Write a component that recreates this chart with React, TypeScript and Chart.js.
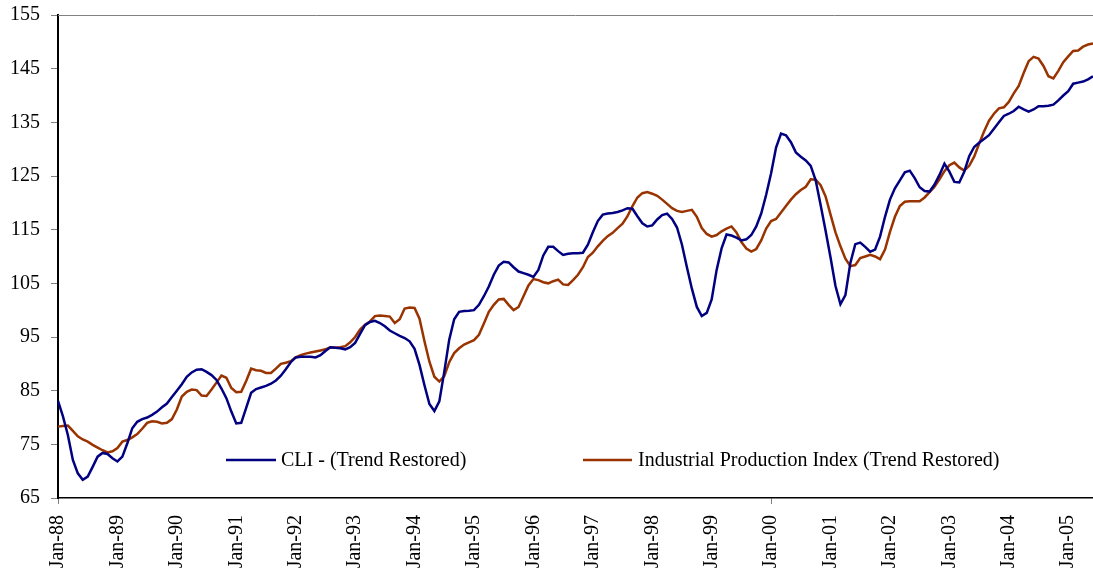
import React, { useEffect, useRef } from "react";
import { Chart, registerables } from "chart.js";

Chart.register(...registerables);

const MONTHS = ["Jan", "Feb", "Mar", "Apr", "May", "Jun", "Jul", "Aug", "Sep", "Oct", "Nov", "Dec"];
const START_YEAR = 1988;
const N_POINTS = 210; // Jan-88 .. Jun-05

const categories: string[] = [];
for (let i = 0; i < N_POINTS; i++) {
  const y = (START_YEAR + Math.floor(i / 12)) % 100;
  categories.push(`${MONTHS[i % 12]}-${String(y).padStart(2, "0")}`);
}

const yTicks = [65, 75, 85, 95, 105, 115, 125, 135, 145, 155];

const cli: number[] = [
  // 1988
  83.1, 80.2, 76.7, 72.1, 69.6, 68.4, 69.0, 70.8, 72.7, 73.4, 73.2, 72.4,
  // 1989
  71.8, 72.7, 75.2, 78.0, 79.2, 79.7, 80.0, 80.5, 81.1, 81.9, 82.6, 83.8,
  // 1990
  85.0, 86.2, 87.6, 88.4, 88.9, 89.0, 88.5, 87.9, 87.0, 85.4, 83.6, 81.1,
  // 1991
  78.9, 79.0, 81.8, 84.6, 85.3, 85.6, 85.9, 86.3, 86.9, 87.8, 89.0, 90.3,
  // 1992
  91.2, 91.3, 91.3, 91.3, 91.2, 91.6, 92.4, 93.1, 93.0, 92.9, 92.7, 93.1,
  // 1993
  93.9, 95.6, 97.2, 97.8, 98.0, 97.6, 97.0, 96.2, 95.7, 95.2, 94.8, 94.2,
  // 1994
  92.8, 89.8, 86.0, 82.5, 81.2, 83.0, 88.5, 94.5, 98.3, 99.7, 99.85, 99.9,
  // 1995
  100.0, 101.0, 102.6, 104.4, 106.6, 108.3, 109.0, 108.9, 108.0, 107.2, 106.9, 106.6,
  // 1996
  106.2, 107.5, 110.2, 111.8, 111.8, 111.0, 110.3, 110.5, 110.6, 110.6, 110.7, 112.2,
  // 1997
  114.5, 116.6, 117.8, 118.0, 118.1, 118.3, 118.6, 119.0, 118.9, 117.5, 116.2, 115.6,
  // 1998
  115.8, 116.9, 117.7, 118.0, 117.0, 115.4, 112.2, 108.0, 104.0, 100.6, 98.9, 99.5,
  // 1999
  102.0, 107.5, 111.5, 114.1, 113.9, 113.5, 113.0, 113.2, 114.0, 115.6, 118.0, 121.5,
  // 2000
  125.5, 130.3, 132.9, 132.6, 131.3, 129.4, 128.6, 127.9, 126.9, 124.2, 119.6, 114.8,
  // 2001
  109.8, 104.5, 101.1, 102.8, 108.8, 112.3, 112.6, 111.8, 110.9, 111.3, 113.7, 117.4,
  // 2002
  120.6, 122.7, 124.2, 125.7, 126.0, 124.6, 122.9, 122.2, 122.1, 123.4, 125.2, 127.3,
  // 2003
  125.8, 123.9, 123.8, 125.8, 128.7, 130.4, 131.2, 131.9, 132.6, 133.8, 135.0, 136.2,
  // 2004
  136.6, 137.1, 137.9, 137.4, 137.0, 137.4, 138.0, 138.0, 138.1, 138.3, 139.1, 140.0,
  // 2005
  140.8, 142.2, 142.4, 142.6, 143.0, 143.6,
];

const ipi: number[] = [
  // 1988
  78.3, 78.4, 78.5, 77.5, 76.5, 75.9, 75.5, 74.9, 74.4, 73.9, 73.5, 73.7,
  // 1989
  74.3, 75.5, 75.8, 76.3, 76.9, 77.9, 79.0, 79.3, 79.2, 78.9, 79.0, 79.7,
  // 1990
  81.5, 83.9, 84.8, 85.2, 85.1, 84.1, 84.0, 85.2, 86.5, 87.8, 87.4, 85.5,
  // 1991
  84.7, 84.8, 86.8, 89.1, 88.8, 88.7, 88.3, 88.3, 89.1, 90.0, 90.2, 90.5,
  // 1992
  91.2, 91.6, 91.9, 92.1, 92.3, 92.5, 92.7, 93.1, 93.0, 93.1, 93.3, 94.0,
  // 1993
  95.0, 96.4, 97.3, 97.9, 98.9, 99.0, 98.9, 98.8, 97.6, 98.3, 100.3, 100.5,
  // 1994
  100.4, 98.4, 94.2, 90.4, 87.6, 86.7, 87.7, 90.3, 92.0, 92.9, 93.6, 94.0,
  // 1995
  94.4, 95.4, 97.5, 99.7, 101.0, 102.0, 102.1, 101.0, 100.0, 100.6, 102.6, 104.6,
  // 1996
  105.8, 105.6, 105.2, 105.0, 105.4, 105.7, 104.8, 104.7, 105.6, 106.6, 108.0, 109.9,
  // 1997
  110.7, 111.9, 112.9, 113.8, 114.4, 115.3, 116.1, 117.5, 119.4, 121.0, 121.8, 122.0,
  // 1998
  121.7, 121.3, 120.6, 119.8, 119.0, 118.5, 118.3, 118.5, 118.7, 117.4, 115.3, 114.2,
  // 1999
  113.7, 114.0, 114.7, 115.2, 115.6, 114.5, 112.7, 111.5, 110.9, 111.4, 113.0, 115.2,
  // 2000
  116.6, 117.0, 118.2, 119.4, 120.6, 121.6, 122.4, 123.0, 124.4, 124.3, 123.3, 121.2,
  // 2001
  117.8, 114.5, 111.9, 109.6, 108.2, 108.4, 109.7, 110.0, 110.3, 110.0, 109.5, 111.3,
  // 2002
  114.6, 117.4, 119.4, 120.2, 120.3, 120.3, 120.3, 121.0, 122.0, 123.0, 124.4, 125.9,
  // 2003
  127.0, 127.5, 126.6, 126.0, 126.9, 128.6, 131.0, 133.3, 135.3, 136.6, 137.6, 137.8,
  // 2004
  138.8, 140.4, 141.8, 144.2, 146.4, 147.2, 146.9, 145.5, 143.6, 143.2, 144.6, 146.2,
  // 2005
  147.3, 148.3, 148.4, 149.1, 149.5, 149.7,
];

const seriesNames = ["CLI - (Trend Restored)", "Industrial Production Index (Trend Restored)"];
const seriesColors = ["#000080", "#993300"];

const FONT = "'Liberation Serif', 'Times New Roman', Times, serif";

const legendPlugin = {
  id: "customLegend",
  afterDraw(chart: any) {
    const ctx = chart.ctx;
    const items = [
      { x0: 226, x1: 276, tx: 281 },
      { x0: 583, x1: 632, tx: 638 },
    ];
    const y = 460;
    ctx.save();
    ctx.font = `20px ${FONT}`;
    ctx.textBaseline = "middle";
    ctx.textAlign = "left";
    items.forEach((it, i) => {
      ctx.strokeStyle = seriesColors[i];
      ctx.lineWidth = 2.5;
      ctx.beginPath();
      ctx.moveTo(it.x0, y);
      ctx.lineTo(it.x1, y);
      ctx.stroke();
      ctx.fillStyle = "#000";
      ctx.fillText(seriesNames[i], it.tx, y + 1);
    });
    ctx.restore();
  },
  beforeDatasetsDraw(chart: any) {
    const { ctx, chartArea } = chart;
    ctx.save();
    ctx.strokeStyle = "#808080";
    ctx.lineWidth = 1;
    ctx.beginPath();
    ctx.moveTo(chartArea.left, chartArea.top + 0.5);
    ctx.lineTo(chartArea.right, chartArea.top + 0.5);
    ctx.stroke();
    ctx.restore();
  },
};

export default function App() {
  const ref = useRef<HTMLCanvasElement | null>(null);

  useEffect(() => {
    if (!ref.current) return;
    Chart.defaults.font.family = FONT;
    Chart.defaults.font.size = 20;
    Chart.defaults.color = "#000";
    const chart = new Chart(ref.current, {
      type: "line",
      data: {
        labels: categories,
        datasets: [
          {
            label: seriesNames[0],
            data: cli,
            borderColor: seriesColors[0],
            backgroundColor: seriesColors[0],
            borderWidth: 2.5,
            pointRadius: 0,
            tension: 0,
            fill: false,
          },
          {
            label: seriesNames[1],
            data: ipi,
            borderColor: seriesColors[1],
            backgroundColor: seriesColors[1],
            borderWidth: 2.5,
            pointRadius: 0,
            tension: 0,
            fill: false,
          },
        ],
      },
      options: {
        animation: false,
        responsive: false,
        events: [],
        layout: { padding: { left: 10, top: 15, right: 0, bottom: 8 } },
        plugins: {
          legend: { display: false },
          tooltip: { enabled: false },
          title: { display: false },
        },
        scales: {
          x: {
            type: "category",
            offset: false,
            afterFit: (scale: any) => {
              scale.height = 70;
              scale.paddingLeft = 0;
              scale.paddingRight = 0;
            },
            grid: {
              display: true,
              drawOnChartArea: false,
              drawTicks: true,
              tickLength: 6,
              color: (c: any) => (c.index % 12 === 0 ? "#808080" : "rgba(0,0,0,0)"),
            },
            border: { display: true, color: "#000", width: 1.5 },
            ticks: {
              autoSkip: false,
              maxRotation: 90,
              minRotation: 90,
              padding: 11,
              color: "#000",
              font: { size: 20, family: FONT },
              callback: (_v: any, i: number) => (i % 12 === 0 ? categories[i] : null),
            },
          },
          y: {
            type: "linear",
            min: 65,
            max: 155,
            afterBuildTicks: (scale: any) => {
              scale.ticks = yTicks.map((v) => ({ value: v }));
            },
            afterFit: (scale: any) => {
              scale.width = 48;
              scale.paddingTop = 0;
              scale.paddingBottom = 0;
            },
            grid: {
              display: true,
              drawOnChartArea: false,
              drawTicks: true,
              tickLength: 7,
              color: "#808080",
            },
            border: { display: true, color: "#000", width: 2 },
            ticks: {
              padding: 11,
              color: "#000",
              font: { size: 20, family: FONT },
            },
          },
        },
      },
      plugins: [legendPlugin],
    });
    return () => chart.destroy();
  }, []);

  return (
    <div style={{ position: "fixed", left: 0, top: 0, width: 1093, height: 576, background: "#fff" }}>
      <canvas ref={ref} width={1093} height={576} style={{ display: "block" }} />
    </div>
  );
}
